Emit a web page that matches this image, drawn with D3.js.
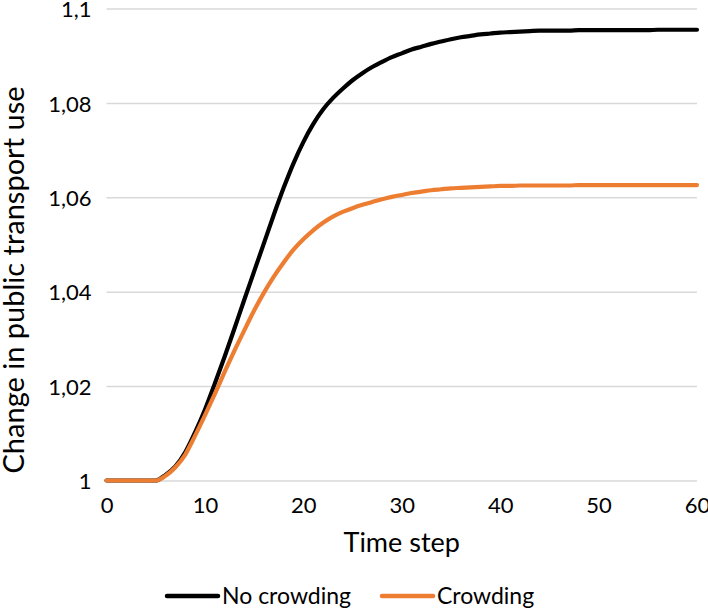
<!DOCTYPE html>
<html>
<head>
<meta charset="utf-8">
<script src="https://cdn.jsdelivr.net/npm/d3@7"></script>
<style>
  html, body { margin: 0; padding: 0; background: #ffffff; }
  svg { display: block; }
  text { font-family: Lato, "Noto Sans", sans-serif; fill: #000; }
</style>
</head>
<body>
<svg id="chart" width="708" height="609"></svg>
<script>
// ---- data ----
const timeSteps = d3.range(0, 61);
const noCrowding = [
  1.0000, 1.0000, 1.0000, 1.0000, 1.0000, 1.0000, 1.0012, 1.0030, 1.0060, 1.0102,
  1.0150, 1.0205, 1.0262, 1.0322, 1.0383, 1.0443, 1.0503, 1.0563, 1.0620, 1.0672,
  1.0717, 1.0755, 1.0786, 1.0810, 1.0830, 1.0848, 1.0863, 1.0876, 1.0887, 1.0897,
  1.0905, 1.0913, 1.0919, 1.0925, 1.0930, 1.0935, 1.0939, 1.0942, 1.0945, 1.0947,
  1.0949, 1.0950, 1.0951, 1.0952, 1.0953, 1.0953, 1.0953, 1.0953, 1.0954, 1.0954,
  1.0954, 1.0954, 1.0954, 1.0954, 1.0954, 1.0954, 1.0955, 1.0955, 1.0955, 1.0955,
  1.0955
];
const crowding = [
  1.0000, 1.0000, 1.0000, 1.0000, 1.0000, 1.0000, 1.0010, 1.0028, 1.0055, 1.0095,
  1.0138, 1.0183, 1.0230, 1.0275, 1.0318, 1.0360, 1.0398, 1.0432, 1.0462, 1.0489,
  1.0511, 1.0530, 1.0546, 1.0559, 1.0569, 1.0577, 1.0584, 1.0590, 1.0596, 1.0601,
  1.0605, 1.0609, 1.0612, 1.0615, 1.0617, 1.0619, 1.0620, 1.0621, 1.0622, 1.0623,
  1.0624, 1.0624, 1.0625, 1.0625, 1.0625, 1.0625, 1.0625, 1.0625, 1.0626, 1.0626,
  1.0626, 1.0626, 1.0626, 1.0626, 1.0626, 1.0626, 1.0626, 1.0626, 1.0626, 1.0626,
  1.0626
];
const seriesNames = ["No crowding", "Crowding"];
const xTicks = [0, 10, 20, 30, 40, 50, 60];
const yTicks = [1, 1.02, 1.04, 1.06, 1.08, 1.1];
const yTickLabels = ["1", "1,02", "1,04", "1,06", "1,08", "1,1"];
const xTitle = "Time step";
const yTitle = "Change in public transport use";

// ---- layout ----
const colors = ["#000000", "#ED7D31"];
const plotL = 106.5, plotR = 697, plotT = 8.5, plotB = 480.5;

const svg = d3.select("#chart");
const x = d3.scaleLinear().domain([0, 60]).range([plotL, plotR]);
const y = d3.scaleLinear().domain([1, 1.1]).range([plotB, plotT]);

// gridlines
svg.append("g")
  .attr("transform", `translate(${plotL},0)`)
  .call(d3.axisLeft(y).tickValues(yTicks).tickSize(-(plotR - plotL)).tickFormat(""))
  .call(g => g.select(".domain").remove())
  .call(g => g.selectAll("line").attr("stroke", "#d9d9d9").attr("stroke-width", 1.5));

// y tick labels
svg.append("g")
  .attr("transform", `translate(${plotL},0)`)
  .call(d3.axisLeft(y).tickValues(yTicks).tickSize(0).tickPadding(15)
        .tickFormat((d, i) => yTickLabels[i]))
  .call(g => g.select(".domain").remove())
  .call(g => g.selectAll("text")
      .attr("dy", "8.2px")
      .style("font-family", "Lato, 'Noto Sans', sans-serif")
      .style("font-size", "22px")
      .attr("fill", "#000"));

// x tick labels
svg.append("g")
  .attr("transform", `translate(0,${plotB})`)
  .call(d3.axisBottom(x).tickValues(xTicks).tickSize(0).tickPadding(17))
  .call(g => g.select(".domain").remove())
  .call(g => g.selectAll("text")
      .style("font-family", "Lato, 'Noto Sans', sans-serif")
      .style("font-size", "22px")
      .attr("fill", "#000"));

// lines
const line = d3.line().x((d, i) => x(timeSteps[i])).y(d => y(d)).curve(d3.curveMonotoneX);
[noCrowding, crowding].forEach((s, k) => {
  svg.append("path")
    .datum(s)
    .attr("d", line)
    .attr("fill", "none")
    .attr("stroke", colors[k])
    .attr("stroke-width", 4.2)
    .attr("stroke-linejoin", "round")
    .attr("stroke-linecap", "round");
});

// axis titles
svg.append("text")
  .attr("x", (plotL + plotR) / 2)
  .attr("y", 552)
  .attr("text-anchor", "middle")
  .style("font-size", "27px")
  .text(xTitle);

svg.append("text")
  .attr("transform", `translate(24,280) rotate(-90)`)
  .attr("text-anchor", "middle")
  .style("font-size", "29px")
  .text(yTitle);

// legend
const legendItems = [
  { x1: 167, x2: 218, tx: 222 },
  { x1: 382, x2: 433, tx: 437 }
];
legendItems.forEach((it, k) => {
  svg.append("line")
    .attr("x1", it.x1).attr("x2", it.x2)
    .attr("y1", 596).attr("y2", 596)
    .attr("stroke", colors[k])
    .attr("stroke-width", 4.5)
    .attr("stroke-linecap", "round");
  svg.append("text")
    .attr("x", it.tx)
    .attr("y", 603.5)
    .style("font-size", "23px")
    .text(seriesNames[k]);
});
</script>
</body>
</html>
